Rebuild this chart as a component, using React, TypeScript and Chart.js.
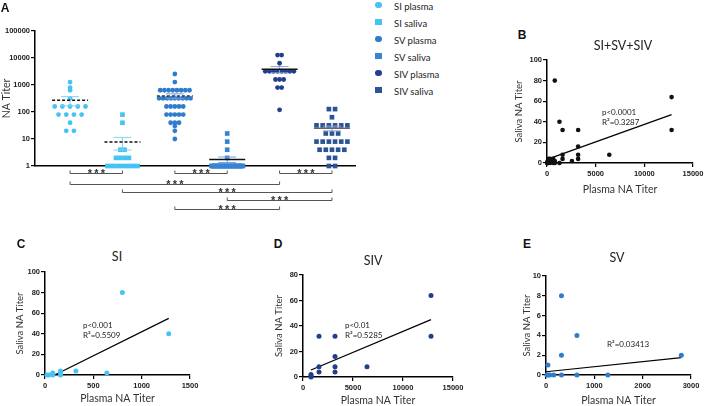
import React, { useEffect, useRef } from 'react';
import { Chart, registerables } from 'chart.js';

Chart.register(...registerables);

// ---------------- Panel A data ----------------
const GROUP_LABELS = ['SI plasma', 'SI saliva', 'SV plasma', 'SV saliva', 'SIV plasma', 'SIV saliva'];
const SI_PLASMA = [1280, 800, 640, 320, 160, 160, 160, 160, 160, 80, 80, 80, 80, 40, 20, 20];
const SI_SALIVA = [80, 40, 4, 4, 2, 2, 2, 2, 1, 1, 1, 1, 1, 1, 1, 1];
const SV_PLASMA = [2560, 1280, 640, 640, 640, 640, 640, 640, 640, 640, 320, 320, 320, 320, 320, 320, 320, 320, 320,
  160, 160, 160, 160, 160, 80, 80, 80, 80, 80, 40, 40, 40, 30, 20, 10];
const SV_SALIVA = [16, 8, 4, 2, 1, 1, 1, 1, 1, 1, 1, 1, 1, 1, 1, 1, 1, 1, 1, 1, 1, 1, 1, 1, 1, 1, 1, 1, 1, 1, 1, 1, 1, 1];
const SIV_PLASMA = [12800, 12800, 6400, 3200, 3200, 3200, 3200, 3200, 3200, 3200, 3200, 1600, 1600, 1600, 800, 800, 120];
const SIV_SALIVA = [128, 128, 64, 32, 32, 32, 32, 32, 32, 16, 16, 16, 8, 8, 8, 8, 8, 8, 4, 4, 4, 4, 4, 2, 2, 1, 1];
const GROUP_VALUES = [SI_PLASMA, SI_SALIVA, SV_PLASMA, SV_SALIVA, SIV_PLASMA, SIV_SALIVA];
const GROUP_MEANS = [270, 7.7, 390, 1.75, 3800, 25];
const GROUP_SEMS = [100, 3.8, 80, 0.4, 1000, 5];
const A_TICKS = [1, 10, 100, 1000, 10000, 100000];
// significance comparisons: [groupA, groupB, row]
const SIG_PAIRS = [[0, 1, 0], [2, 3, 0], [4, 5, 0], [0, 4, 1], [1, 5, 2], [3, 5, 3], [2, 4, 4]];
const SIG_TEXT = '***';

// ---------------- Panel B-E data ----------------
const B_PLASMA = [800, 1280, 1600, 3200, 12800, 12800, 3200, 6400, 1600, 3200, 3200, 1600, 2560, 1280,
  20, 40, 80, 160, 320, 640, 800, 40, 80, 800, 80, 160, 320, 640, 800, 160, 320, 640];
const B_SALIVA = [80, 40, 32, 32, 64, 32, 16, 8, 8, 8, 4, 4, 2, 0,
  0, 0, 0, 0, 0, 0, 0, 1, 1, 1, 2, 2, 2, 2, 2, 4, 4, 4];
const B_REG_X = [0, 12800];
const B_REG_Y = [3.5, 47];

const C_PLASMA = [800, 1280, 640, 320, 160, 160, 160, 80, 80, 80, 40, 20];
const C_SALIVA = [80, 40, 2, 4, 4, 2, 0, 2, 1, 0, 0, 0];
const C_REG_X = [100, 1280];
const C_REG_Y = [0, 55];

const D_PLASMA = [12800, 12800, 1600, 3200, 3200, 6400, 3200, 1600, 1600, 3200, 800, 800, 800];
const D_SALIVA = [64, 32, 32, 32, 16, 8, 8, 8, 4, 4, 2, 1, 0];
const D_REG_X = [800, 12800];
const D_REG_Y = [5.5, 45];

const E_PLASMA = [320, 640, 320, 2800, 40, 20, 40, 80, 160, 320, 640, 1280];
const E_SALIVA = [8, 4, 2, 2, 1, 0, 0, 0, 0, 0, 0, 0];
const E_REG_X = [0, 2800];
const E_REG_Y = [0.33, 1.75];

// ---------------- styles ----------------
const GROUP_COLORS = ['#45c3f2', '#45c3f2', '#2f7ccd', '#3784d3', '#203f8c', '#2b5496'];
const ERR_COLORS = ['#7fd3f5', '#7fd3f5', '#6fa3de', '#6fa3de', '#8aa6d6', '#8aa6d6'];
const MEAN_COLORS = ['#111', '#111', '#333', '#111', '#111', '#666'];
const MEAN_DASHED = [true, true, true, false, false, false];
const GROUP_SHAPES = ['circle', 'rect', 'circle', 'rect', 'circle', 'rect'];
const SWARM_STEP = [0.147, 0.082, 0.08, 0.082, 0.078, 0.118];
const SWARM_MAX_SPAN = 0.6;
const SIG_ROW_OFFSET = [7, 18, 26, 34, 43];

const TICK_FONT = { family: '"Liberation Sans", Arial, sans-serif', size: 7.5, weight: 'bold' as const };
const TITLE_FAMILY = 'Lato, "Open Sans", sans-serif';

function swarm(values: number[], gi: number) {
  const rows = new Map<number, number>();
  values.forEach((v) => rows.set(v, (rows.get(v) || 0) + 1));
  const out: { x: number; y: number }[] = [];
  rows.forEach((n, v) => {
    const step = n > 1 ? Math.min(SWARM_STEP[gi], SWARM_MAX_SPAN / (n - 1)) : 0;
    for (let k = 0; k < n; k++) out.push({ x: gi + (k - (n - 1) / 2) * step, y: v });
  });
  return out;
}

const meanSemPlugin = {
  id: 'meanSem',
  afterDatasetsDraw(chart: any) {
    const { ctx } = chart;
    const x = chart.scales.x;
    const y = chart.scales.y;
    ctx.save();
    GROUP_MEANS.forEach((m, i) => {
      const cx = x.getPixelForValue(i);
      const yt = y.getPixelForValue(m + GROUP_SEMS[i]);
      const yb = y.getPixelForValue(Math.max(m - GROUP_SEMS[i], 1));
      const ym = y.getPixelForValue(m);
      ctx.setLineDash([]);
      ctx.strokeStyle = ERR_COLORS[i];
      ctx.lineWidth = 1;
      ctx.beginPath();
      ctx.moveTo(cx, yt); ctx.lineTo(cx, yb);
      ctx.moveTo(cx - 9, yt); ctx.lineTo(cx + 9, yt);
      ctx.moveTo(cx - 9, yb); ctx.lineTo(cx + 9, yb);
      ctx.stroke();
      ctx.strokeStyle = MEAN_COLORS[i];
      ctx.lineWidth = 1.5;
      ctx.setLineDash(MEAN_DASHED[i] ? [3, 2] : []);
      ctx.beginPath();
      ctx.moveTo(cx - 18, ym); ctx.lineTo(cx + 18, ym);
      ctx.stroke();
    });
    ctx.restore();
  },
};

const sigPlugin = {
  id: 'sig',
  afterDraw(chart: any) {
    const { ctx, chartArea } = chart;
    const x = chart.scales.x;
    ctx.save();
    ctx.strokeStyle = '#555';
    ctx.lineWidth = 1;
    ctx.fillStyle = '#333';
    ctx.font = 'bold 11px "Liberation Sans", Arial, sans-serif';
    ctx.textAlign = 'center';
    ctx.textBaseline = 'alphabetic';
    SIG_PAIRS.forEach(([a, b, row]) => {
      const x1 = x.getPixelForValue(a);
      const x2 = x.getPixelForValue(b);
      const yy = Math.round(chartArea.bottom + SIG_ROW_OFFSET[row]) + 0.5;
      ctx.beginPath();
      ctx.moveTo(x1, yy - 3); ctx.lineTo(x1, yy); ctx.lineTo(x2, yy); ctx.lineTo(x2, yy - 3);
      ctx.stroke();
      const mid = (x1 + x2) / 2;
      const chars = SIG_TEXT.split('');
      chars.forEach((c, k) => ctx.fillText(c, mid + (k - (chars.length - 1) / 2) * 6.5, yy + 3.5));
    });
    ctx.restore();
  },
};

function makeA() {
  return {
    type: 'scatter',
    data: {
      datasets: GROUP_VALUES.map((vals, gi) => ({
        label: GROUP_LABELS[gi],
        data: swarm(vals, gi),
        pointStyle: GROUP_SHAPES[gi],
        pointRadius: GROUP_SHAPES[gi] === 'rect' ? 3.3 : 2.4,
        backgroundColor: GROUP_COLORS[gi],
        borderWidth: 0,
        clip: false,
      })),
    },
    options: {
      animation: false,
      responsive: false,
      devicePixelRatio: 1,
      layout: { padding: { top: 31, right: 7, bottom: 50, left: 0 } },
      plugins: { legend: { display: false }, tooltip: { enabled: false } },
      scales: {
        x: {
          type: 'linear',
          min: -0.67,
          max: 5.44,
          ticks: { display: false },
          grid: { display: false },
          border: { display: true, color: '#000', width: 1.5 },
          afterFit: (s: any) => { s.height = 0; },
        },
        y: {
          type: 'logarithmic',
          min: 1,
          max: 100000,
          afterFit: (s: any) => { s.width = 35; },
          afterBuildTicks: (s: any) => { s.ticks = A_TICKS.map((v) => ({ value: v })); },
          ticks: { callback: (v: any) => String(v), font: TICK_FONT, color: '#222', padding: 1, autoSkip: false },
          grid: { drawOnChartArea: false, tickLength: 4, color: '#000', lineWidth: 1.2 },
          border: { color: '#000', width: 1.5 },
          title: {
            display: true, text: 'NA Titer', color: '#333',
            font: { family: TITLE_FAMILY, size: 10.5 }, padding: { top: 0, bottom: 0 },
          },
        },
      },
    },
    plugins: [meanSemPlugin, sigPlugin],
  };
}

interface PanelSpec {
  plasma: number[]; saliva: number[]; regX: number[]; regY: number[];
  color: string; radius: number;
  xMax: number; xStep: number; yMax: number; yStep: number;
  yWidth: number; xHeight: number; padTop: number; padRight: number;
  xTitlePad: number; yTitlePad: number;
  notes: { text: string; x: number; y: number }[];
}

function makeAnnot(notes: { text: string; x: number; y: number }[]) {
  return {
    id: 'annot',
    afterDatasetsDraw(chart: any) {
      const { ctx } = chart;
      const x = chart.scales.x;
      const y = chart.scales.y;
      ctx.save();
      ctx.font = `8px ${TITLE_FAMILY}`;
      ctx.fillStyle = '#222';
      ctx.textAlign = 'left';
      ctx.textBaseline = 'middle';
      notes.forEach((n) => ctx.fillText(n.text, x.getPixelForValue(n.x), y.getPixelForValue(n.y)));
      ctx.restore();
    },
  };
}

function makeScatter(p: PanelSpec) {
  const axisCommon = {
    grid: { drawOnChartArea: false, tickLength: 4, color: '#000', lineWidth: 1.2 },
    border: { color: '#000', width: 1.5 },
  };
  return {
    type: 'scatter',
    data: {
      datasets: [
        {
          data: p.plasma.map((v, i) => ({ x: v, y: p.saliva[i] })),
          pointRadius: p.radius,
          backgroundColor: p.color,
          borderWidth: 0,
          clip: false,
        },
        {
          data: p.regX.map((v, i) => ({ x: v, y: p.regY[i] })),
          showLine: true,
          pointRadius: 0,
          borderColor: '#000',
          borderWidth: 1.2,
          clip: false,
        },
      ],
    },
    options: {
      animation: false,
      responsive: false,
      devicePixelRatio: 1,
      layout: { padding: { top: p.padTop, right: p.padRight, bottom: 0, left: 0 } },
      plugins: { legend: { display: false }, tooltip: { enabled: false } },
      scales: {
        x: {
          type: 'linear', min: 0, max: p.xMax,
          ...axisCommon,
          afterFit: (s: any) => { s.height = p.xHeight; },
          ticks: { stepSize: p.xStep, callback: (v: any) => String(v), font: TICK_FONT, color: '#222', padding: 2, maxRotation: 0, autoSkip: false },
          title: {
            display: true, text: 'Plasma NA Titer', color: '#333',
            font: { family: TITLE_FAMILY, size: 10.5 }, padding: { top: 0, bottom: p.xTitlePad },
          },
        },
        y: {
          type: 'linear', min: 0, max: p.yMax,
          ...axisCommon,
          afterFit: (s: any) => { s.width = p.yWidth; },
          ticks: { stepSize: p.yStep, callback: (v: any) => String(v), font: TICK_FONT, color: '#222', padding: 1 },
          title: {
            display: true, text: 'Saliva NA Titer', color: '#333',
            font: { family: TITLE_FAMILY, size: 9.5 }, padding: { top: p.yTitlePad, bottom: 0 },
          },
        },
      },
    },
    plugins: [makeAnnot(p.notes)],
  };
}

function ChartBox({ left, top, width, height, make }: any) {
  const ref = useRef<HTMLCanvasElement>(null);
  useEffect(() => {
    const chart = new Chart(ref.current as HTMLCanvasElement, make());
    return () => chart.destroy();
  }, []);
  return (
    <canvas ref={ref} width={width} height={height}
      style={{ position: 'absolute', left, top, width, height }} />
  );
}

function Txt({ x, y, children, style }: any) {
  return (
    <div style={{
      position: 'absolute', left: x, top: y, transform: 'translate(-50%, -50%)',
      whiteSpace: 'nowrap', lineHeight: 1, ...style,
    }}>{children}</div>
  );
}

const LETTER_STYLE = { fontFamily: '"Liberation Sans", Arial, sans-serif', fontWeight: 'bold', fontSize: 12, color: '#111' };
const PANEL_TITLE_STYLE = { fontFamily: TITLE_FAMILY, fontSize: 12.5, color: '#222' };

export default function App() {
  useEffect(() => { document.body.style.margin = '0'; }, []);
  return (
    <div style={{ position: 'fixed', left: 0, top: 0, width: 704, height: 406, overflow: 'hidden', background: '#fff' }}>
      <ChartBox left={0} top={0} width={362} height={216} make={makeA} />
      <ChartBox left={505} top={52} width={210} height={148} make={() => makeScatter({
        plasma: B_PLASMA, saliva: B_SALIVA, regX: B_REG_X, regY: B_REG_Y, color: '#111', radius: 2.3,
        xMax: 15000, xStep: 5000, yMax: 100, yStep: 20,
        yWidth: 42, xHeight: 37, padTop: 8, padRight: 22, xTitlePad: 4.1, yTitlePad: 8.7,
        notes: [{ text: 'p<0.0001', x: 5650, y: 49.5 }, { text: 'R²=0.3287', x: 5650, y: 39.8 }],
      })} />
      <ChartBox left={0} top={264} width={215} height={148} make={() => makeScatter({
        plasma: C_PLASMA, saliva: C_SALIVA, regX: C_REG_X, regY: C_REG_Y, color: '#45c3f2', radius: 2.5,
        xMax: 1500, xStep: 500, yMax: 100, yStep: 20,
        yWidth: 45, xHeight: 37, padTop: 8, padRight: 25, xTitlePad: 7.1, yTitlePad: 14.7,
        notes: [{ text: 'p<0.001', x: 393, y: 48.5 }, { text: 'R²=0.5509', x: 393, y: 38.8 }],
      })} />
      <ChartBox left={255} top={266} width={225} height={146} make={() => makeScatter({
        plasma: D_PLASMA, saliva: D_SALIVA, regX: D_REG_X, regY: D_REG_Y, color: '#243d8a', radius: 2.5,
        xMax: 15000, xStep: 5000, yMax: 80, yStep: 20,
        yWidth: 48, xHeight: 35, padTop: 9, padRight: 27, xTitlePad: 5.1, yTitlePad: 18.7,
        notes: [{ text: 'p<0.01', x: 4200, y: 40.8 }, { text: 'R²=0.5285', x: 4200, y: 32.9 }],
      })} />
      <ChartBox left={505} top={266} width={210} height={146} make={() => makeScatter({
        plasma: E_PLASMA, saliva: E_SALIVA, regX: E_REG_X, regY: E_REG_Y, color: '#2f7ccd', radius: 2.5,
        xMax: 3000, xStep: 1000, yMax: 10, yStep: 2,
        yWidth: 41, xHeight: 37, padTop: 10, padRight: 24, xTitlePad: 4.6, yTitlePad: 16.7,
        notes: [{ text: 'R²=0.03413', x: 1262, y: 3.13 }],
      })} />

      {/* Legend for panel A */}
      {GROUP_LABELS.map((lab, i) => (
        <React.Fragment key={lab}>
          <div style={{
            position: 'absolute', left: 375, top: 7.3 + i * 17 - 2.5 - 3.25, width: 6.5, height: 6.5,
            background: GROUP_COLORS[i], borderRadius: GROUP_SHAPES[i] === 'circle' ? '50%' : 0,
          }} />
          <div style={{
            position: 'absolute', left: 394, top: 7.3 + i * 17, transform: 'translateY(-50%)',
            fontFamily: TITLE_FAMILY, fontSize: 9.5, color: '#222', whiteSpace: 'nowrap', lineHeight: 1,
          }}>{lab}</div>
        </React.Fragment>
      ))}

      <Txt x={5} y={7.5} style={LETTER_STYLE}>A</Txt>
      <Txt x={522} y={35} style={LETTER_STYLE}>B</Txt>
      <Txt x={21} y={244} style={LETTER_STYLE}>C</Txt>
      <Txt x={278} y={244} style={LETTER_STYLE}>D</Txt>
      <Txt x={527} y={244} style={LETTER_STYLE}>E</Txt>

      <Txt x={623} y={46} style={PANEL_TITLE_STYLE}>SI+SV+SIV</Txt>
      <Txt x={117} y={257} style={PANEL_TITLE_STYLE}>SI</Txt>
      <Txt x={373} y={261} style={PANEL_TITLE_STYLE}>SIV</Txt>
      <Txt x={617} y={258} style={PANEL_TITLE_STYLE}>SV</Txt>
    </div>
  );
}
